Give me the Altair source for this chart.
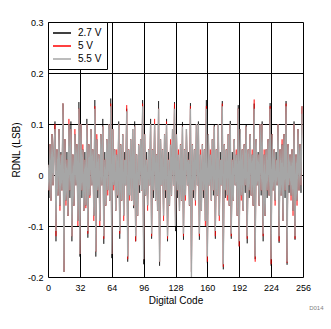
import altair as alt
import pandas as pd

codes = list(range(256))

# 2.7 V
v27 = [
    0.02, -0.045, 0.06, -0.05, 0.08, -0.02, 0.05, 0.105,
    -0.13, 0.05, -0.04, 0.09, -0.06, 0.045, -0.03, 0.14,
    -0.19, 0.07, -0.05, 0.045, -0.08, 0.1, -0.045, 0.105,
    -0.13, 0.04, -0.06, 0.08, -0.02, 0.06, -0.09, 0.143,
    -0.16, 0.1, -0.045, 0.05, -0.07, 0.045, -0.06, 0.11,
    -0.123, 0.06, -0.04, 0.09, -0.02, 0.05, -0.08, 0.147,
    -0.16, 0.07, -0.045, 0.04, -0.09, 0.08, -0.02, 0.11,
    -0.135, 0.045, -0.06, 0.07, -0.03, 0.1, -0.05, 0.15,
    -0.163, 0.09, -0.02, 0.05, -0.07, 0.04, -0.045, 0.105,
    -0.125, 0.06, -0.05, 0.08, -0.08, 0.045, -0.02, 0.13,
    -0.17, 0.05, -0.04, 0.07, -0.05, 0.09, -0.065, 0.105,
    -0.13, 0.04, -0.08, 0.06, -0.035, 0.07, -0.03, 0.147,
    -0.175, 0.08, -0.04, 0.045, -0.06, 0.05, -0.02, 0.11,
    -0.125, 0.05, -0.045, 0.1, -0.05, 0.04, -0.07, 0.145,
    -0.178, 0.07, -0.02, 0.05, -0.08, 0.08, -0.045, 0.11,
    -0.13, 0.045, -0.06, 0.06, -0.04, 0.09, -0.02, 0.143,
    -0.11, 0.08, -0.045, 0.04, -0.07, 0.06, -0.05, 0.104,
    -0.127, 0.05, -0.04, 0.09, -0.02, 0.045, -0.06, 0.141,
    -0.19, 0.06, -0.045, 0.05, -0.05, 0.1, -0.02, 0.105,
    -0.127, 0.04, -0.07, 0.06, -0.045, 0.05, -0.09, 0.147,
    -0.173, 0.08, -0.02, 0.04, -0.05, 0.07, -0.04, 0.1,
    -0.125, 0.05, -0.04, 0.1, -0.08, 0.045, -0.02, 0.145,
    -0.185, 0.06, -0.045, 0.05, -0.04, 0.08, -0.06, 0.106,
    -0.125, 0.045, -0.05, 0.07, -0.02, 0.04, -0.08, 0.137,
    -0.14, 0.09, -0.04, 0.05, -0.07, 0.06, -0.035, 0.1,
    -0.134, 0.05, -0.045, 0.08, -0.04, 0.04, -0.06, 0.14,
    -0.165, 0.07, -0.02, 0.045, -0.06, 0.1, -0.04, 0.105,
    -0.13, 0.04, -0.08, 0.05, -0.045, 0.07, -0.04, 0.141,
    -0.178, 0.08, -0.03, 0.05, -0.05, 0.045, -0.02, 0.1,
    -0.133, 0.05, -0.04, 0.06, -0.09, 0.08, -0.045, 0.145,
    -0.176, 0.06, -0.035, 0.04, -0.04, 0.05, -0.07, 0.105,
    -0.127, 0.04, -0.05, 0.09, -0.03, 0.06, -0.035, 0.135,
]

# 5 V
v5 = [
    0.02, -0.03, 0.06, -0.05, 0.08, -0.02, 0.05, 0.1,
    -0.12, 0.05, -0.04, 0.09, -0.07, 0.04, -0.03, 0.14,
    -0.19, 0.07, -0.06, 0.03, -0.08, 0.11, -0.03, 0.09,
    -0.12, 0.04, -0.06, 0.09, -0.02, 0.06, -0.1, 0.13,
    -0.155, 0.1, -0.03, 0.06, -0.07, 0.03, -0.065, 0.1,
    -0.115, 0.06, -0.045, 0.09, -0.02, 0.05, -0.09, 0.135,
    -0.15, 0.08, -0.03, 0.04, -0.1, 0.08, -0.02, 0.095,
    -0.125, 0.03, -0.06, 0.07, -0.04, 0.1, -0.05, 0.14,
    -0.155, 0.09, -0.03, 0.05, -0.07, 0.05, -0.04, 0.1,
    -0.115, 0.06, -0.05, 0.08, -0.09, 0.03, -0.02, 0.137,
    -0.165, 0.05, -0.05, 0.07, -0.05, 0.09, -0.06, 0.095,
    -0.13, 0.04, -0.08, 0.06, -0.02, 0.07, -0.03, 0.14,
    -0.165, 0.08, -0.04, 0.03, -0.07, 0.05, -0.02, 0.1,
    -0.12, 0.05, -0.03, 0.11, -0.05, 0.04, -0.07, 0.13,
    -0.17, 0.07, -0.02, 0.05, -0.09, 0.08, -0.03, 0.105,
    -0.125, 0.03, -0.06, 0.07, -0.04, 0.09, -0.02, 0.14,
    -0.1, 0.08, -0.03, 0.05, -0.07, 0.06, -0.05, 0.095,
    -0.12, 0.05, -0.05, 0.09, -0.02, 0.03, -0.06, 0.135,
    -0.19, 0.06, -0.03, 0.05, -0.06, 0.1, -0.02, 0.1,
    -0.12, 0.05, -0.07, 0.06, -0.03, 0.05, -0.1, 0.135,
    -0.17, 0.08, -0.02, 0.05, -0.05, 0.07, -0.03, 0.095,
    -0.12, 0.05, -0.04, 0.1, -0.09, 0.03, -0.02, 0.14,
    -0.18, 0.06, -0.03, 0.05, -0.05, 0.08, -0.06, 0.1,
    -0.12, 0.03, -0.05, 0.07, -0.02, 0.05, -0.08, 0.13,
    -0.14, 0.09, -0.05, 0.05, -0.07, 0.06, -0.02, 0.095,
    -0.125, 0.05, -0.03, 0.08, -0.04, 0.05, -0.06, 0.148,
    -0.17, 0.07, -0.02, 0.04, -0.06, 0.1, -0.03, 0.1,
    -0.12, 0.05, -0.08, 0.05, -0.03, 0.07, -0.04, 0.135,
    -0.175, 0.08, -0.03, 0.05, -0.06, 0.03, -0.02, 0.1,
    -0.13, 0.05, -0.04, 0.07, -0.09, 0.08, -0.03, 0.14,
    -0.172, 0.06, -0.02, 0.04, -0.05, 0.05, -0.08, 0.1,
    -0.125, 0.04, -0.06, 0.09, -0.03, 0.06, -0.02, 0.135,
]

# 5.5 V
v55 = [
    0.02, -0.03, 0.06, -0.05, 0.08, -0.02, 0.05, 0.09,
    -0.11, 0.05, -0.04, 0.09, -0.06, 0.04, -0.03, 0.14,
    -0.19, 0.07, -0.05, 0.03, -0.08, 0.1, -0.03, 0.09,
    -0.12, 0.04, -0.06, 0.08, -0.02, 0.06, -0.09, 0.13,
    -0.155, 0.1, -0.03, 0.05, -0.07, 0.03, -0.06, 0.1,
    -0.11, 0.06, -0.04, 0.09, -0.02, 0.05, -0.08, 0.13,
    -0.15, 0.07, -0.03, 0.04, -0.09, 0.08, -0.02, 0.095,
    -0.12, 0.03, -0.06, 0.07, -0.03, 0.1, -0.05, 0.135,
    -0.155, 0.09, -0.02, 0.05, -0.07, 0.04, -0.04, 0.1,
    -0.11, 0.06, -0.05, 0.08, -0.08, 0.03, -0.02, 0.125,
    -0.16, 0.05, -0.04, 0.07, -0.05, 0.09, -0.06, 0.095,
    -0.12, 0.04, -0.08, 0.06, -0.02, 0.07, -0.03, 0.135,
    -0.165, 0.08, -0.04, 0.03, -0.06, 0.05, -0.02, 0.1,
    -0.115, 0.05, -0.03, 0.1, -0.05, 0.04, -0.07, 0.13,
    -0.17, 0.07, -0.02, 0.05, -0.08, 0.08, -0.03, 0.1,
    -0.12, 0.03, -0.06, 0.06, -0.04, 0.09, -0.02, 0.13,
    -0.1, 0.08, -0.03, 0.04, -0.07, 0.06, -0.05, 0.095,
    -0.115, 0.05, -0.04, 0.09, -0.02, 0.03, -0.06, 0.13,
    -0.2, 0.06, -0.03, 0.05, -0.05, 0.1, -0.02, 0.1,
    -0.115, 0.04, -0.07, 0.06, -0.03, 0.05, -0.09, 0.13,
    -0.16, 0.08, -0.02, 0.04, -0.05, 0.07, -0.03, 0.095,
    -0.11, 0.05, -0.04, 0.1, -0.08, 0.03, -0.02, 0.135,
    -0.175, 0.06, -0.03, 0.05, -0.04, 0.08, -0.06, 0.1,
    -0.115, 0.03, -0.05, 0.07, -0.02, 0.04, -0.08, 0.13,
    -0.13, 0.09, -0.04, 0.05, -0.07, 0.06, -0.02, 0.095,
    -0.12, 0.05, -0.03, 0.08, -0.04, 0.04, -0.06, 0.13,
    -0.16, 0.07, -0.02, 0.04, -0.06, 0.1, -0.03, 0.1,
    -0.115, 0.04, -0.08, 0.05, -0.03, 0.07, -0.04, 0.13,
    -0.165, 0.08, -0.03, 0.05, -0.05, 0.03, -0.02, 0.1,
    -0.12, 0.05, -0.04, 0.06, -0.09, 0.08, -0.03, 0.135,
    -0.17, 0.06, -0.02, 0.04, -0.04, 0.05, -0.07, 0.1,
    -0.12, 0.04, -0.05, 0.09, -0.03, 0.06, -0.02, 0.12,
]

series_names = ["2.7 V", "5 V", "5.5 V"]
series_colors = ["#000000", "#ff0000", "#a6a6a6"]
series_widths = [0.6, 0.6, 1.3]
x_ticks = [0, 32, 64, 96, 128, 160, 192, 224, 256]
y_ticks = [-0.2, -0.1, 0, 0.1, 0.2, 0.3]

rows = []
for name, vals in zip(series_names, [v27, v5, v55]):
    for c, v in zip(codes, vals):
        rows.append({"code": c, "rdnl": v, "series": name})
df = pd.DataFrame(rows)

FONT = "Liberation Sans"

color = alt.Color(
    "series:N",
    scale=alt.Scale(domain=series_names, range=series_colors),
    legend=alt.Legend(
        title=None,
        orient="none",
        legendX=0,
        legendY=0,
        strokeColor="black",
        fillColor="white",
        padding=5,
        symbolType="M-1.8,0H1.8",
        symbolSize=100,
        symbolStrokeWidth=1.5,
        symbolOffset=3,
        labelFont=FONT,
        labelFontSize=10,
        labelColor="black",
        labelOffset=10,
        rowPadding=2,
        cornerRadius=0,
    ),
)

x_enc = alt.X(
    "code:Q",
    scale=alt.Scale(domain=[0, 256], nice=False),
    axis=alt.Axis(
        values=x_ticks,
        title="Digital Code",
        grid=True,
        gridColor="black",
        gridOpacity=1,
        gridWidth=1,
        ticks=False,
        domain=False,
        labelFlush=False,
        labelFont=FONT,
        labelFontSize=9,
        labelColor="black",
        labelPadding=6,
        titleFont=FONT,
        titleFontSize=10,
        titleFontWeight="normal",
        titleColor="black",
        titlePadding=3,
    ),
)
y_enc = alt.Y(
    "rdnl:Q",
    scale=alt.Scale(domain=[-0.2, 0.3], nice=False, zero=False),
    axis=alt.Axis(
        values=y_ticks,
        title="RDNL (LSB)",
        grid=True,
        gridColor="black",
        gridOpacity=1,
        gridWidth=1,
        ticks=False,
        domain=False,
        labelFlush=False,
        labelExpr="toString(round(datum.value*10)/10)",
        labelFont=FONT,
        labelFontSize=9,
        labelColor="black",
        labelPadding=5,
        titleFont=FONT,
        titleFontSize=10,
        titleFontWeight="normal",
        titleColor="black",
        titlePadding=6,
    ),
)

layers = [
    alt.Chart(df)
    .transform_filter(alt.datum.series == n)
    .mark_line(strokeWidth=w, clip=True, strokeJoin="bevel")
    .encode(x=x_enc, y=y_enc, color=color)
    for n, w in zip(series_names, series_widths)
]

chart = alt.layer(*layers).properties(
    width=255,
    height=255,
    autosize="none",
    padding={"left": 48, "top": 22, "right": 28, "bottom": 52},
    title=alt.TitleParams(
        "D014",
        orient="bottom",
        anchor="end",
        fontSize=6,
        font=FONT,
        fontWeight="normal",
        color="#808080",
        offset=0,
        dx=13,
    ),
).configure_view(stroke="black", strokeWidth=1).configure(background="white")

chart.save("out.html", embed_options={"renderer": "svg", "actions": False})
